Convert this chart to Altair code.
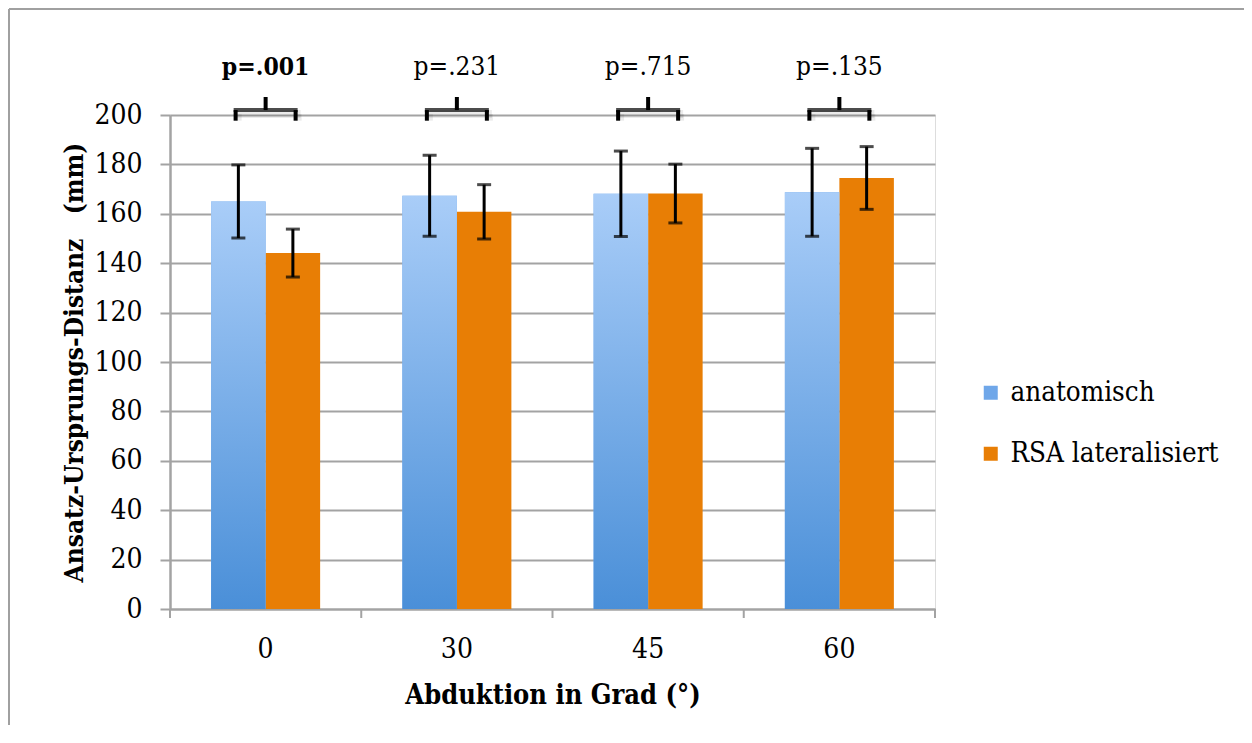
import altair as alt
import pandas as pd

# ---- data ----
groups = ["0", "30", "45", "60"]
series = ["anatomisch", "RSA lateralisiert"]
anat_mean = [165.0, 167.3, 168.1, 168.7]
anat_sd = [14.8, 16.4, 17.3, 17.8]
rsa_mean = [144.1, 160.8, 168.2, 174.5]
rsa_sd = [9.7, 11.0, 11.9, 12.7]
p_labels = ["p=.001", "p=.231", "p=.715", "p=.135"]
p_bold = [True, False, False, False]
y_ticks = [0, 20, 40, 60, 80, 100, 120, 140, 160, 180, 200]

rows = []
for i, g in enumerate(groups):
    for s, m, sd in ((series[0], anat_mean[i], anat_sd[i]),
                     (series[1], rsa_mean[i], rsa_sd[i])):
        rows.append(dict(group=g, series=s, mean=m, lo=m - sd, hi=m + sd))
bars = pd.DataFrame(rows)
ann = pd.DataFrame(dict(group=groups, label=p_labels, bold=p_bold))

FONT = "'DejaVu Serif Condensed', 'DejaVu Serif'"
GRID = "#a3a3a3"
ORANGE = "#E87E05"
BLUE = "#6FA7E9"
Y_TITLE = "Ansatz-Ursprungs-Distanz\u00a0\u00a0 (mm)"
X_TITLE = "Abduktion in Grad (°)"

x_axis = alt.Axis(
    title=X_TITLE, labelAngle=0, ticks=False,
    domainColor=GRID, domainWidth=2, labelFont=FONT,
    labelFontSize=28, labelColor="black", labelPadding=26, titleFont=FONT,
    titleFontSize=27, titleFontWeight="bold", titleColor="black", titlePadding=19,
)
y_axis = alt.Axis(
    title=Y_TITLE, values=y_ticks, grid=True, gridColor=GRID, gridWidth=2,
    domainColor=GRID, domainWidth=2.5, tickColor=GRID, tickWidth=2, tickSize=10,
    labelFont=FONT, labelFontSize=28, labelColor="black", labelPadding=18,
    titleFont=FONT, titleFontSize=26, titleFontWeight="bold", titleColor="black",
    titlePadding=6,
)
x_scale = alt.Scale(domain=groups, paddingInner=0.43, paddingOuter=0.215)
y_scale = alt.Scale(domain=[0, 200], nice=False)
xo_scale = alt.Scale(domain=series, paddingInner=0, paddingOuter=0)
HALF_STEP = 765 / 4 / 2


def X():
    return alt.X("group:N", sort=groups, scale=x_scale, axis=x_axis)


def XO():
    return alt.XOffset("series:N", sort=series, scale=xo_scale)


def Y(field):
    return alt.Y(field, scale=y_scale, axis=y_axis)


def YD(v):
    return alt.YDatum(v, type="quantitative", scale=y_scale, axis=y_axis)


base = alt.Chart(bars)

bar_layer = base.mark_bar().encode(
    x=X(), xOffset=XO(), y=Y("mean:Q"),
    color=alt.Color("series:N", sort=series,
                    scale=alt.Scale(domain=series, range=[BLUE, ORANGE]),
                    legend=alt.Legend(title=None, orient="none", legendX=807,
                                      legendY=264, symbolType="square",
                                      symbolSize=196, symbolStrokeWidth=0,
                                      labelFont=FONT, labelFontSize=27.5,
                                      labelColor="black", labelOffset=6,
                                      rowPadding=32, padding=0,
                                      labelLimit=400)),
)

grad = {"gradient": "linear", "x1": 0, "y1": 0, "x2": 0, "y2": 1,
        "stops": [{"offset": 0, "color": "#A9CDF8"},
                  {"offset": 1, "color": "#4A8FD8"}]}
grad_layer = base.transform_filter(alt.datum.series == series[0]).mark_bar(
    color=grad).encode(x=X(), xOffset=XO(), y=Y("mean:Q"))

err_rule = base.mark_rule(color="black", strokeWidth=3).encode(
    x=X(), xOffset=XO(), y=Y("lo:Q"), y2="hi:Q")
cap_hi = base.mark_tick(color="black", size=14, thickness=3).encode(
    x=X(), xOffset=XO(), y=Y("hi:Q"))
cap_lo = base.mark_tick(color="black", size=14, thickness=3).encode(
    x=X(), xOffset=XO(), y=Y("lo:Q"))

a = alt.Chart(ann)

# x-axis tick marks at the category boundaries
xt_left = a.mark_rule(color=GRID, strokeWidth=2, xOffset=-HALF_STEP).encode(
    x=X(), y=alt.value(494), y2=alt.value(503))
xt_last = a.transform_filter(alt.datum.group == groups[-1]).mark_rule(
    color=GRID, strokeWidth=2, xOffset=HALF_STEP).encode(
    x=X(), y=alt.value(494), y2=alt.value(503))

# soft bracket shadows
sh_h = a.mark_tick(color="#000000", opacity=0.08, size=66, thickness=8,
                   xOffset=2, yOffset=4).encode(x=X(), y=YD(202))
sh_l = a.mark_rule(color="#000000", opacity=0.08, strokeWidth=8, xOffset=-28,
                   yOffset=4).encode(x=X(), y=YD(202), y2=alt.Y2Datum(197.7))
sh_r = a.mark_rule(color="#000000", opacity=0.08, strokeWidth=8, xOffset=32,
                   yOffset=4).encode(x=X(), y=YD(202), y2=alt.Y2Datum(197.7))
# brackets
br_h = a.mark_tick(color="black", size=64, thickness=4).encode(x=X(), y=YD(202))
br_c = a.mark_rule(color="black", strokeWidth=4).encode(
    x=X(), y=YD(202), y2=alt.Y2Datum(207.3))
br_l = a.mark_rule(color="black", strokeWidth=4, xOffset=-30).encode(
    x=X(), y=YD(202), y2=alt.Y2Datum(197.7))
br_r = a.mark_rule(color="black", strokeWidth=4, xOffset=30).encode(
    x=X(), y=YD(202), y2=alt.Y2Datum(197.7))

txt_b = a.transform_filter(alt.datum.bold == True).mark_text(
    font=FONT, fontSize=24.5, fontWeight="bold", color="black",
    baseline="alphabetic", align="center").encode(
    x=X(), y=YD(216.2), text="label:N")
txt_n = a.transform_filter(alt.datum.bold == False).mark_text(
    font=FONT, fontSize=26, color="black",
    baseline="alphabetic", align="center").encode(
    x=X(), y=YD(216.2), text="label:N")

# outer frame (top and left edges, as in the reference)
frame_l = alt.Chart(ann).mark_rule(color="#a0a0a0", strokeWidth=2).encode(
    x=alt.value(-161), y=alt.value(-106), y2=alt.value(640))
frame_t = alt.Chart(ann).mark_rule(color="#a0a0a0", strokeWidth=2).encode(
    x=alt.value(-161), x2=alt.value(1090), y=alt.value(-106))

chart = alt.layer(
    bar_layer, grad_layer, err_rule, cap_hi, cap_lo, xt_left, xt_last,
    sh_h, sh_l, sh_r, br_h, br_c, br_l, br_r, txt_b, txt_n,
    frame_l, frame_t,
).properties(
    width=765, height=494,
    autosize=alt.AutoSizeParams(type="none"),
    padding={"left": 162, "top": 107, "right": 309, "bottom": 116},
).configure_view(stroke=None).configure(background="white")

chart.save("out.html", embed_options={"renderer": "svg", "actions": False})
